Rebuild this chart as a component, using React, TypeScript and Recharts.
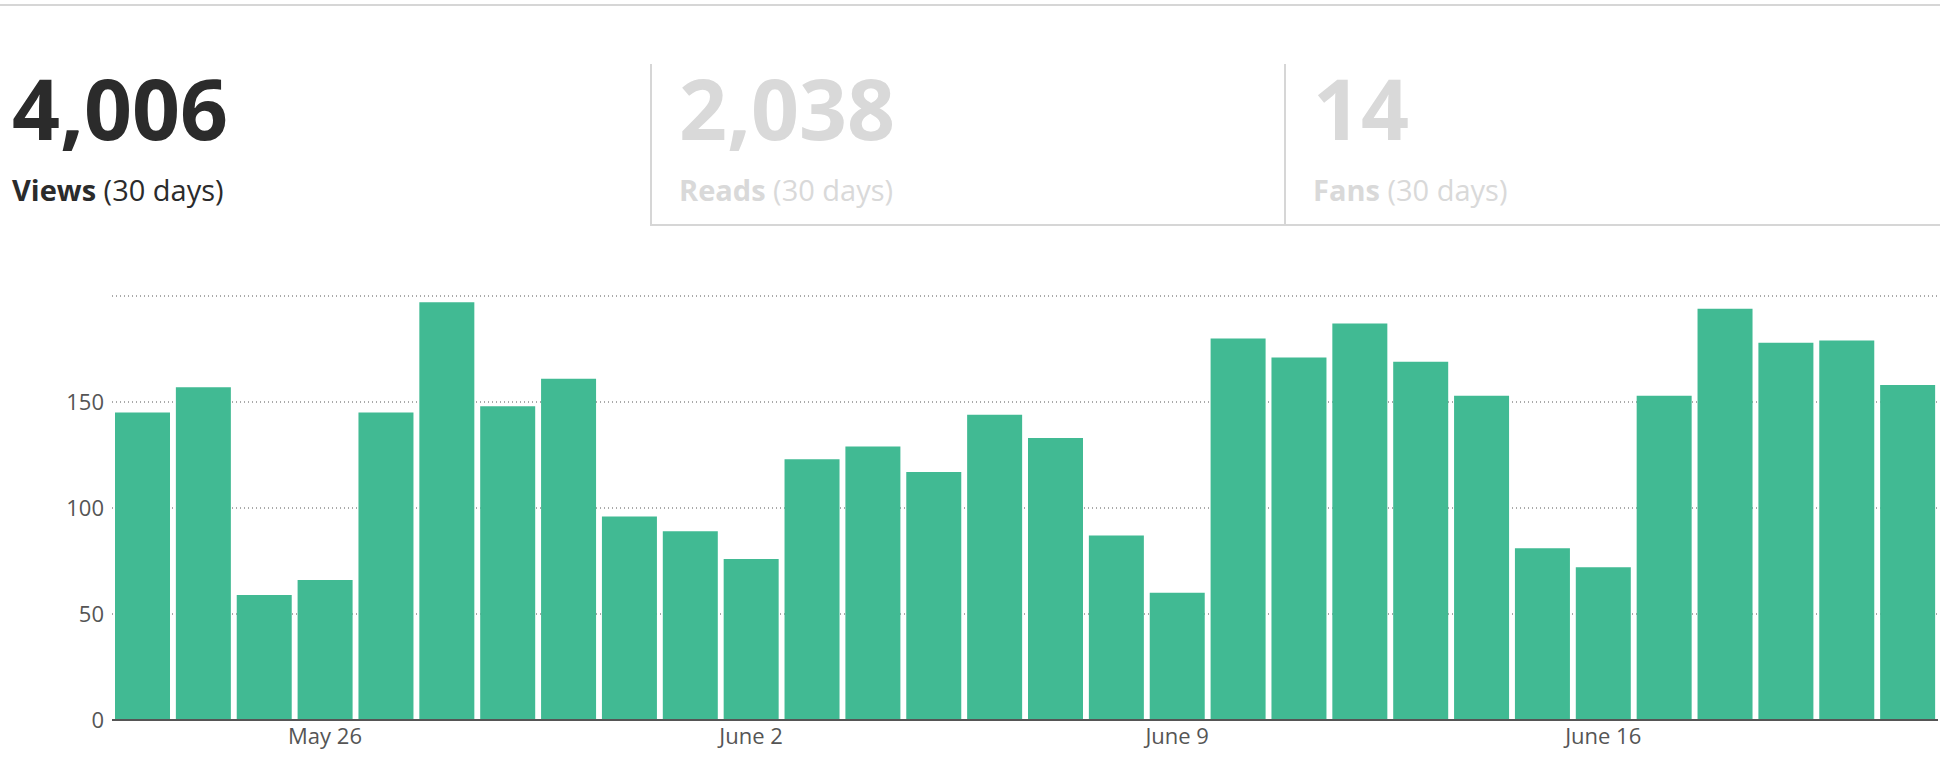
import React from 'react';
import {BarChart, Bar, XAxis, YAxis, CartesianGrid} from 'recharts';

const days = [
    'May 23', 'May 24', 'May 25', 'May 26', 'May 27', 'May 28', 'May 29', 'May 30', 'May 31', 'June 1',
    'June 2', 'June 3', 'June 4', 'June 5', 'June 6', 'June 7', 'June 8', 'June 9', 'June 10', 'June 11',
    'June 12', 'June 13', 'June 14', 'June 15', 'June 16', 'June 17', 'June 18', 'June 19', 'June 20', 'June 21',
];
const views = [145, 157, 59, 66, 145, 197, 148, 161, 96, 89, 76, 123, 129, 117, 144, 133, 87, 60, 180, 171, 187, 169, 153, 81, 72, 153, 194, 178, 179, 158];
const xTicks = ['May 26', 'June 2', 'June 9', 'June 16'];
const yTicks = [0, 50, 100, 150];

const data = days.map((d, i) => ({day: d, views: views[i]}));

const font = "'Open Sans', sans-serif";

const Stat = ({value, label, active, left}: {value: string; label: string; active: boolean; left: number}) => (
    <div style={{position: 'absolute', left, top: 58, fontFamily: font}}>
        <div style={{fontSize: 84, fontWeight: 700, color: active ? '#2b2b2b' : '#d9d9d9', lineHeight: '100px'}}>{value}</div>
        <div style={{fontSize: 29, color: active ? '#2b2b2b' : '#d9d9d9', marginTop: 12}}>
            <b>{label}</b> (30 days)
        </div>
    </div>
);

const App = () => {
    return (
        <div style={{position: 'absolute', left: 0, top: 0, width: 1958, height: 762, background: '#fff', overflow: 'hidden'}}>
            <div style={{position: 'absolute', left: 0, top: 4, width: 1940, height: 2, background: '#d6d6d6'}}/>
            <div style={{position: 'absolute', left: 650, top: 64, width: 2, height: 162, background: '#d6d6d6'}}/>
            <div style={{position: 'absolute', left: 1284, top: 64, width: 2, height: 162, background: '#d6d6d6'}}/>
            <div style={{position: 'absolute', left: 650, top: 224, width: 1290, height: 2, background: '#d6d6d6'}}/>
            <Stat value="4,006" label="Views" active left={12}/>
            <Stat value="2,038" label="Reads" active={false} left={679}/>
            <Stat value="14" label="Fans" active={false} left={1313}/>
            <div style={{position: 'absolute', left: 0, top: 0}}>
                <BarChart width={1958} height={762} data={data} barCategoryGap={3}
                          margin={{top: 296, right: 20, bottom: 0, left: 0}}>
                    <CartesianGrid vertical={false} stroke="#555" strokeDasharray="1 3"/>
                    <XAxis dataKey="day" ticks={xTicks} interval={0} tickLine={false}
                           axisLine={{stroke: '#555', strokeWidth: 2}} height={42}
                           tick={{fill: '#555', fontSize: 22, fontFamily: font}}/>
                    <YAxis domain={[0, 200]} ticks={yTicks} width={112} axisLine={false} tickLine={false}
                           tick={{fill: '#555', fontSize: 22, fontFamily: font}}/>
                    <Bar dataKey="views" fill="#41ba93" isAnimationActive={false}/>
                </BarChart>
            </div>
        </div>
    );
};

export default App;
